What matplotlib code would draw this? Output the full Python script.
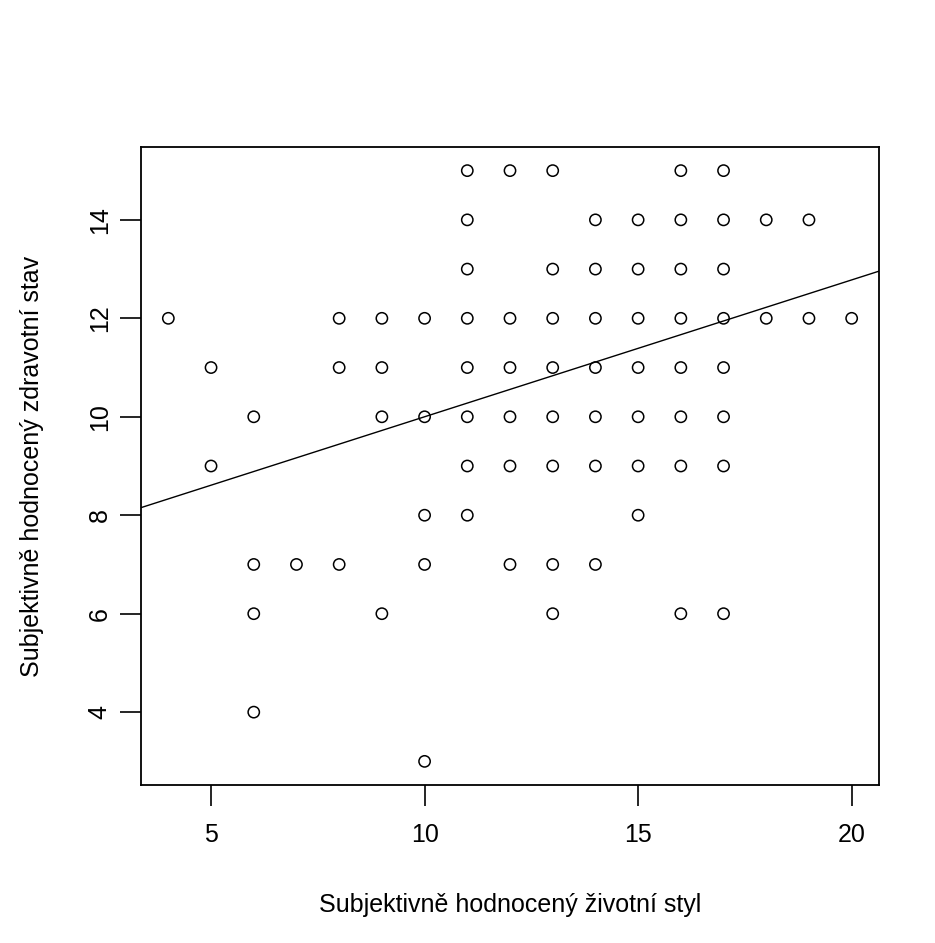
import numpy as np
import matplotlib.pyplot as plt

plt.rcParams['font.family'] = ['Liberation Sans', 'DejaVu Sans']

# lifestyle score (x) and self-rated health (y), one entry per plotted point
styl = [4,
        5, 5,
        6, 6, 6, 6,
        7,
        8, 8, 8,
        9, 9, 9, 9,
        10, 10, 10, 10, 10,
        11, 11, 11, 11, 11, 11, 11, 11,
        12, 12, 12, 12, 12, 12,
        13, 13, 13, 13, 13, 13, 13, 13,
        14, 14, 14, 14, 14, 14, 14,
        15, 15, 15, 15, 15, 15, 15,
        16, 16, 16, 16, 16, 16, 16, 16,
        17, 17, 17, 17, 17, 17, 17, 17,
        18, 18,
        19, 19,
        20]
zdravi = [12,
          11, 9,
          10, 7, 6, 4,
          7,
          12, 11, 7,
          12, 11, 10, 6,
          12, 10, 8, 7, 3,
          15, 14, 13, 12, 11, 10, 9, 8,
          15, 12, 11, 10, 9, 7,
          15, 13, 12, 11, 10, 9, 7, 6,
          14, 13, 12, 11, 10, 9, 7,
          14, 13, 12, 11, 10, 9, 8,
          15, 14, 13, 12, 11, 10, 9, 6,
          15, 14, 13, 12, 11, 10, 9, 6,
          14, 12,
          14, 12,
          12]

# regression line (intercept, slope)
b0, b1 = 7.22, 0.278

fs = 18

fig = plt.figure(figsize=(9.35, 9.43), dpi=100)
ax = fig.add_axes([141/935, 1 - 785/943, (879 - 141)/935, (785 - 147)/943])

ax.scatter(styl, zdravi, s=66, facecolors='none', edgecolors='black', linewidths=1.1)

xmin, xmax = 4 - 0.64, 20 + 0.64
ax.set_xlim(xmin, xmax)
ax.set_ylim(3 - 0.48, 15 + 0.48)
xx = np.array([xmin, xmax])
ax.plot(xx, b0 + b1 * xx, color='black', lw=1)

ax.set_xticks([5, 10, 15, 20])
ax.set_yticks([4, 6, 8, 10, 12, 14])
for lab in ax.get_yticklabels():
    lab.set_rotation(90)
    lab.set_va('center')
ax.tick_params(direction='out', length=15, width=1.2, labelsize=fs,
               colors='black')
ax.tick_params(axis='x', pad=12)
ax.tick_params(axis='y', pad=6)
for sp in ax.spines.values():
    sp.set_linewidth(1.3)

ax.set_xlabel('Subjektivně hodnocený životní styl', fontsize=fs, va='center')
ax.set_ylabel('Subjektivně hodnocený zdravotní stav', fontsize=fs, va='center')
ax.xaxis.set_label_coords(0.5, -(905 - 785) / 638)
ax.yaxis.set_label_coords(-(141 - 32) / 738, 0.5)

fig.savefig('out.png', dpi=100)
